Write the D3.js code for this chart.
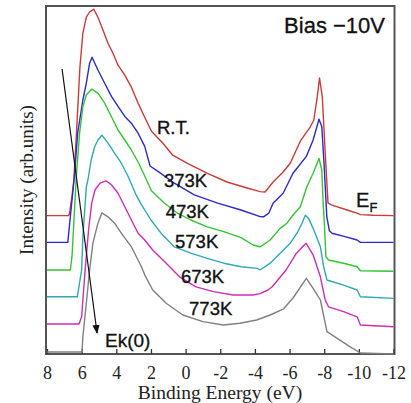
<!DOCTYPE html>
<html>
<head>
<meta charset="utf-8">
<script src="https://cdn.jsdelivr.net/npm/d3@7"></script>
<style>
  body { margin: 0; background: #fff; }
  text { font-family: "Liberation Sans", Arial, sans-serif; }
</style>
</head>
<body>
<svg id="chart" width="411" height="403"></svg>
<script>

// spectra, [binding energy (eV), intensity above own baseline]
const rtData = [[8,0],[6.76,0],[6.7,0.5],[6.55,5.1],[6.45,8.9],[6.3,20.6],[6.1,37.1],[5.93,45.6],[5.73,49.6],[5.54,50.9],[5.3,51.6],[5.06,49.6],[4.77,46.4],[4.48,43.1],[4.19,40.6],[3.9,37.6],[3.51,35.1],[3.13,32.1],[2.74,28.1],[2.36,24.6],[1.97,21.1],[1.31,18.1],[0.74,15.1],[-0.08,13.1],[-1.23,10.6],[-2.39,8.4],[-3.55,6.9],[-4.3,6.0],[-4.59,5.9],[-5.05,8.4],[-5.63,10.9],[-6.04,13.1],[-6.62,18.6],[-7.2,22.2],[-7.4,23.9],[-7.6,29.7],[-7.73,34.4],[-7.89,29.7],[-8.06,15.6],[-8.22,3.1],[-8.45,2.6],[-9.32,1.4],[-9.9,0.6],[-10.09,0.25],[-10.84,0.1],[-12,0]];
const k373Data = [[8,0],[6.8,0],[6.7,4.4],[6.42,16.4],[6.23,27.3],[5.93,35.6],[5.73,39.8],[5.54,44.8],[5.4,46.3],[5.06,43.1],[4.67,39.8],[4.28,36.5],[3.9,34],[3.51,31.5],[3.13,29.8],[2.74,27.3],[2.36,24],[2.05,19.1],[1.45,17.3],[0.65,14.8],[-0.5,11.9],[-1.85,9.8],[-3.2,8.1],[-4.3,6.45],[-4.5,6.4],[-4.8,7.3],[-5.05,9.8],[-5.63,12.3],[-6.2,17.3],[-6.97,21.5],[-7.36,25.6],[-7.7,30.8],[-7.86,29],[-8.0,19],[-8.15,6.45],[-8.3,2.9],[-8.45,2.3],[-9.2,1.45],[-9.9,0.6],[-10.09,0],[-12,0]];
const k473Data = [[8,0],[6.65,0],[6.55,3.8],[6.31,23.3],[6.12,34.2],[5.93,40.8],[5.73,43.8],[5.42,45.2],[5.06,44.2],[4.67,41.7],[4.28,38.3],[3.9,35],[3.51,32.5],[3.13,30],[2.74,27],[2.36,23.5],[1.97,19.8],[1.25,16.8],[0.5,14.3],[-0.3,12.5],[-1.25,10.8],[-2.2,9.6],[-3.2,8.1],[-3.9,6.25],[-4.3,5.8],[-4.88,7.5],[-5.46,10.4],[-5.85,11.7],[-6.2,13.75],[-6.62,15.8],[-7.0,20.8],[-7.36,24.2],[-7.7,27.9],[-7.86,25],[-7.95,15.8],[-8.0,12.5],[-8.1,3.3],[-8.25,2.5],[-9.12,1.7],[-9.9,0.8],[-10.09,-0.2],[-12,-0.3]];
const k573Data = [[8,0],[6.25,0],[6.0,6.7],[5.93,15],[5.73,27.5],[5.64,29.2],[5.45,34.2],[5.25,37.5],[5.06,39.2],[4.83,40.4],[4.48,38.4],[4.1,35.9],[3.71,33.4],[3.33,30.2],[2.85,25.4],[2.6,23.4],[2.0,19.2],[1.42,15.9],[0.65,12.5],[-0.3,10.9],[-1.25,9.6],[-2.2,8.4],[-3.2,7.5],[-4.15,7.1],[-4.3,6.7],[-4.88,8.4],[-5.46,10.9],[-6.04,13.4],[-6.43,15.9],[-6.72,18.4],[-6.91,20.4],[-7.1,19.6],[-7.4,16.7],[-7.78,12.5],[-7.97,7.5],[-8.16,4.2],[-9.12,2.9],[-9.9,1.7],[-10.09,0],[-12,-0.4]];
const k673Data = [[8,0],[6.15,0],[6.0,1.8],[5.8,13.5],[5.6,23.5],[5.42,30.2],[5.23,33.5],[4.94,35.2],[4.6,35.8],[4.28,34.8],[3.9,32.7],[3.51,29.3],[3.13,26],[2.74,22.7],[2.36,21],[1.9,18.5],[1.12,15.2],[0.35,11.8],[-0.6,9.3],[-1.6,8.1],[-2.75,7.25],[-3.9,7.25],[-4.3,7.6],[-4.75,8.5],[-5.0,9.3],[-5.8,13.5],[-6.4,17.7],[-6.95,20.2],[-7.36,17.3],[-7.78,11.8],[-8.06,6],[-8.25,4.3],[-9.12,3.1],[-9.9,1.8],[-10.09,-0.25],[-12,-0.7]];
const k773Data = [[8,0],[5.98,0],[5.93,3.8],[5.73,12.2],[5.54,20.5],[5.35,27.2],[5.06,32.2],[4.83,34.8],[4.48,33.8],[4.1,32.2],[3.71,29.7],[3.13,26.3],[2.55,21.3],[2.36,19.3],[1.9,15.5],[1.12,12.2],[0.16,9.25],[-1.0,7.6],[-2.17,6.75],[-3.14,7.2],[-4.1,8],[-4.88,9.25],[-5.66,10.8],[-6.2,13.5],[-6.97,18.4],[-7.36,15.9],[-7.78,13],[-8.16,5.1],[-8.75,3.4],[-9.5,1.3],[-10.09,-0.25],[-12,-0.5]];

const seriesNames = ["R.T.", "373K", "473K", "573K", "673K", "773K"];
const seriesData = [rtData, k373Data, k473Data, k573Data, k673Data, k773Data];
const offsets = [34.6, 27.9, 21, 14.3, 7.5, 0.5];
const colors = ["#cc3b3b", "#2b2bcc", "#35c435", "#2eaab2", "#cc2fb4", "#808080"];

// label anchors [energy, intensity]
const labelPos = [[1.65, 55], [1.25, 41.7], [1.15, 33.9], [0.61, 26.4], [0.27, 17.8], [-0.2, 9.75]];
const xTicks = [8, 6, 4, 2, 0, -2, -4, -6, -8, -10, -12];
const arrowPts = [[7.13, 71.25], [5.11, 5.25]];

const svg = d3.select("#chart");

const x = d3.scaleLinear().domain([8, -12]).range([47, 393.5]);
const y = d3.scaleLinear().domain([0, 87]).range([354, 6]);

// frame
svg.append("rect")
    .attr("x", 46).attr("y", 6)
    .attr("width", 348.5).attr("height", 348)
    .attr("fill", "none")
    .attr("stroke", "#555")
    .attr("stroke-width", 2);

// bottom axis, ticks pointing in
const xAxis = svg.append("g")
    .attr("transform", "translate(0,354)")
    .call(d3.axisBottom(x).tickValues(xTicks).tickSize(-5).tickPadding(12).tickFormat(d3.format("d")));
xAxis.select(".domain").remove();
xAxis.selectAll("line").attr("stroke", "#333").attr("stroke-width", 1.3);
xAxis.selectAll("text")
    .style("font-family", "'Liberation Serif', 'Times New Roman', serif")
    .style("font-size", "18px")
    .attr("fill", "#222")
    .text(d => d < 0 ? "-" + Math.abs(d) : d);

svg.append("text")
    .attr("x", 220).attr("y", 399)
    .attr("text-anchor", "middle")
    .style("font-family", "'Liberation Serif', 'Times New Roman', serif")
    .style("font-size", "19.5px")
    .attr("fill", "#222")
    .text("Binding Energy (eV)");

svg.append("text")
    .attr("transform", "translate(33,180) rotate(-90)")
    .attr("text-anchor", "middle")
    .style("font-family", "'Liberation Serif', 'Times New Roman', serif")
    .style("font-size", "19px")
    .attr("fill", "#222")
    .text("Intensity (arb.units)");

// spectra
const line = d3.line()
    .x(d => x(d[0]))
    .y(d => y(d[1]));

svg.append("g")
  .selectAll("path")
  .data(seriesData)
  .join("path")
    .attr("d", (d, i) => line(d.map(p => [p[0], p[1] + offsets[i]])))
    .attr("fill", "none")
    .attr("stroke", (d, i) => colors[i])
    .attr("stroke-width", 1.4)
    .attr("stroke-linejoin", "round");

svg.append("g")
  .selectAll("text")
  .data(seriesNames)
  .join("text")
    .attr("x", (d, i) => x(labelPos[i][0]))
    .attr("y", (d, i) => y(labelPos[i][1]))
    .style("font-size", "18.5px")
    .attr("fill", "#111")
    .attr("stroke", "#111")
    .attr("stroke-width", 0.35)
    .text(d => d);

// Ek(0) arrow
svg.append("defs").append("marker")
    .attr("id", "head")
    .attr("viewBox", "0 0 10 10")
    .attr("refX", 9).attr("refY", 5)
    .attr("markerWidth", 9).attr("markerHeight", 9)
    .attr("markerUnits", "userSpaceOnUse")
    .attr("orient", "auto")
  .append("path")
    .attr("d", "M0,1L10,5L0,9Z")
    .attr("fill", "#111");

svg.append("line")
    .attr("x1", x(arrowPts[0][0])).attr("y1", y(arrowPts[0][1]))
    .attr("x2", x(arrowPts[1][0])).attr("y2", y(arrowPts[1][1]))
    .attr("stroke", "#111")
    .attr("stroke-width", 1.2)
    .attr("marker-end", "url(#head)");

svg.append("text")
    .attr("x", x(4.65)).attr("y", y(1.8))
    .style("font-size", "19px")
    .attr("fill", "#111")
    .attr("stroke", "#111")
    .attr("stroke-width", 0.3)
    .text("Ek(0)");

const ef = svg.append("text")
    .attr("x", x(-9.84)).attr("y", y(36.8))
    .style("font-size", "20px")
    .attr("fill", "#111")
    .attr("stroke", "#111")
    .attr("stroke-width", 0.3);
ef.append("tspan").text("E");
ef.append("tspan").attr("dy", 5).style("font-size", "13px").text("F");

svg.append("text")
    .attr("x", 385).attr("y", 33)
    .attr("text-anchor", "end")
    .style("font-size", "22px")
    .attr("fill", "#111")
    .attr("stroke", "#111")
    .attr("stroke-width", 0.3)
    .text("Bias \u221210V");

</script>
</body>
</html>
